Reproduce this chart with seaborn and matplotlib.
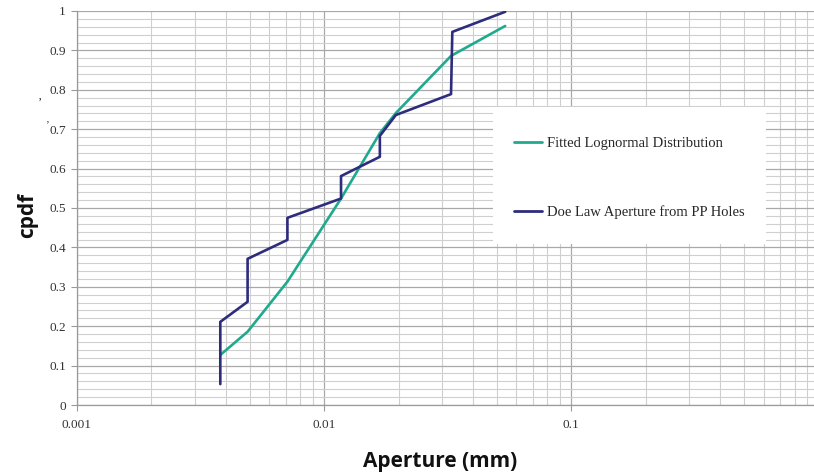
import matplotlib
matplotlib.use("Agg")
import matplotlib.pyplot as plt
from matplotlib.patches import Rectangle
from matplotlib.ticker import FixedLocator, LogLocator, NullFormatter, MultipleLocator
import numpy as np
import pandas as pd
import seaborn as sns

# Empirical aperture distribution (Doe Law, PP holes) -- staircase vertices
doe_aperture = [0.0038, 0.0038, 0.0049, 0.0049, 0.0071, 0.0071, 0.0117, 0.0117,
                0.0168, 0.0168, 0.0195, 0.0326, 0.0330, 0.0540]
doe_cpdf = [0.053, 0.211, 0.262, 0.371, 0.419, 0.475, 0.524, 0.581,
            0.630, 0.683, 0.736, 0.789, 0.947, 0.998]

# Fitted lognormal CDF evaluated at the same apertures
fit_aperture = [0.0038, 0.0049, 0.0071, 0.0117, 0.0168, 0.0195, 0.0326, 0.0540]
fit_cpdf = [0.127, 0.186, 0.313, 0.524, 0.690, 0.741, 0.886, 0.962]

series_names = ["Fitted Lognormal Distribution", "Doe Law Aperture from PP Holes"]
series_colors = ["#1FAA8E", "#2E2C7C"]

x_ticks = [0.001, 0.01, 0.1]
x_tick_labels = ["0.001", "0.01", "0.1"]
y_ticks = [0, 0.1, 0.2, 0.3, 0.4, 0.5, 0.6, 0.7, 0.8, 0.9, 1.0]
y_tick_labels = ["0", "0.1", "0.2", "0.3", "0.4", "0.5", "0.6", "0.7", "0.8", "0.9", "1"]

sns.set_theme(style="white")
plt.rcParams["font.family"] = ["Liberation Serif", "DejaVu Sans"]

W, H = 814, 475
fig = plt.figure(figsize=(W / 100, H / 100), dpi=100)
left_px, right_px, top_px, bottom_px = 77, 818.5, 11, 405
ax = fig.add_axes([left_px / W, 1 - bottom_px / H,
                   (right_px - left_px) / W, (bottom_px - top_px) / H])

fit_df = pd.DataFrame({"aperture": fit_aperture, "cpdf": fit_cpdf,
                       "series": series_names[0]})
doe_df = pd.DataFrame({"aperture": doe_aperture, "cpdf": doe_cpdf,
                       "series": series_names[1]})

sns.lineplot(data=fit_df, x="aperture", y="cpdf", color=series_colors[0],
             sort=False, estimator=None, lw=1.9, ax=ax, label=series_names[0],
             zorder=3)
sns.lineplot(data=doe_df, x="aperture", y="cpdf", color=series_colors[1],
             sort=False, estimator=None, lw=1.9, ax=ax, label=series_names[1],
             zorder=4)

ax.set_xscale("log")
ax.set_xlim(0.001, 1)
ax.set_ylim(0, 1)

ax.xaxis.set_major_locator(FixedLocator(x_ticks + [1]))
ax.set_xticklabels(x_tick_labels + [""])
ax.xaxis.set_minor_locator(LogLocator(base=10, subs=np.arange(2, 10)))
ax.xaxis.set_minor_formatter(NullFormatter())
ax.yaxis.set_major_locator(FixedLocator(y_ticks))
ax.set_yticklabels(y_tick_labels)
ax.yaxis.set_minor_locator(MultipleLocator(0.02))

ax.set_axisbelow(True)
ax.grid(which="major", axis="both", color="#A9A9A9", lw=0.9)
ax.grid(which="minor", axis="both", color="#CFCFCF", lw=0.8)

for side in ["top", "right"]:
    ax.spines[side].set_visible(False)
for side in ["left", "bottom"]:
    ax.spines[side].set_color("#9A9A9A")
    ax.spines[side].set_linewidth(0.9)

ax.tick_params(axis="both", which="major", direction="out", length=4,
               width=0.8, color="#9A9A9A", labelsize=9.5, labelcolor="#333333",
               left=True, bottom=True)
ax.tick_params(axis="both", which="minor", length=0)
ax.tick_params(axis="x", pad=6)
ax.tick_params(axis="y", pad=4)

ax.set_xlabel("Aperture (mm)", family=["Open Sans", "DejaVu Sans"],
              fontweight="bold", fontsize=15, color="#111111")
ax.xaxis.label.set_va("center")
ax.xaxis.set_label_coords((440 - left_px) / (right_px - left_px),
                          -(461 - bottom_px) / (bottom_px - top_px))
ax.set_ylabel("cpdf", family=["Open Sans", "DejaVu Sans"],
              fontweight="bold", fontsize=15, color="#111111")
ax.yaxis.label.set_va("center")
ax.yaxis.set_label_coords(-(77 - 28) / (right_px - left_px), 0.48)

# white panel behind the legend
box = Rectangle((493 / W, 1 - 244 / H), (766 - 493) / W, (244 - 107) / H,
                transform=fig.transFigure, facecolor="white", edgecolor="none",
                zorder=2.5)
ax.add_patch(box)

leg = ax.legend(loc="upper left", bbox_to_anchor=(514 / W, 1 - 137 / H),
                bbox_transform=fig.transFigure, frameon=False,
                prop={"family": ["Liberation Serif", "DejaVu Sans"], "size": 10.5},
                handlelength=1.95, handletextpad=0.3, labelspacing=3.75,
                borderaxespad=0, borderpad=0)
leg.set_zorder(6)
for line in leg.get_lines():
    line.set_linewidth(2.0)

# small marks beside the y axis
fig.text(40 / W, 1 - 103 / H, "\u2019", fontsize=9, color="#333333",
         ha="center", va="center")
fig.text(47 / W, 1 - 125 / H, "\u2019", fontsize=8, color="#333333",
         ha="center", va="center")

fig.savefig("out.png", dpi=100)
